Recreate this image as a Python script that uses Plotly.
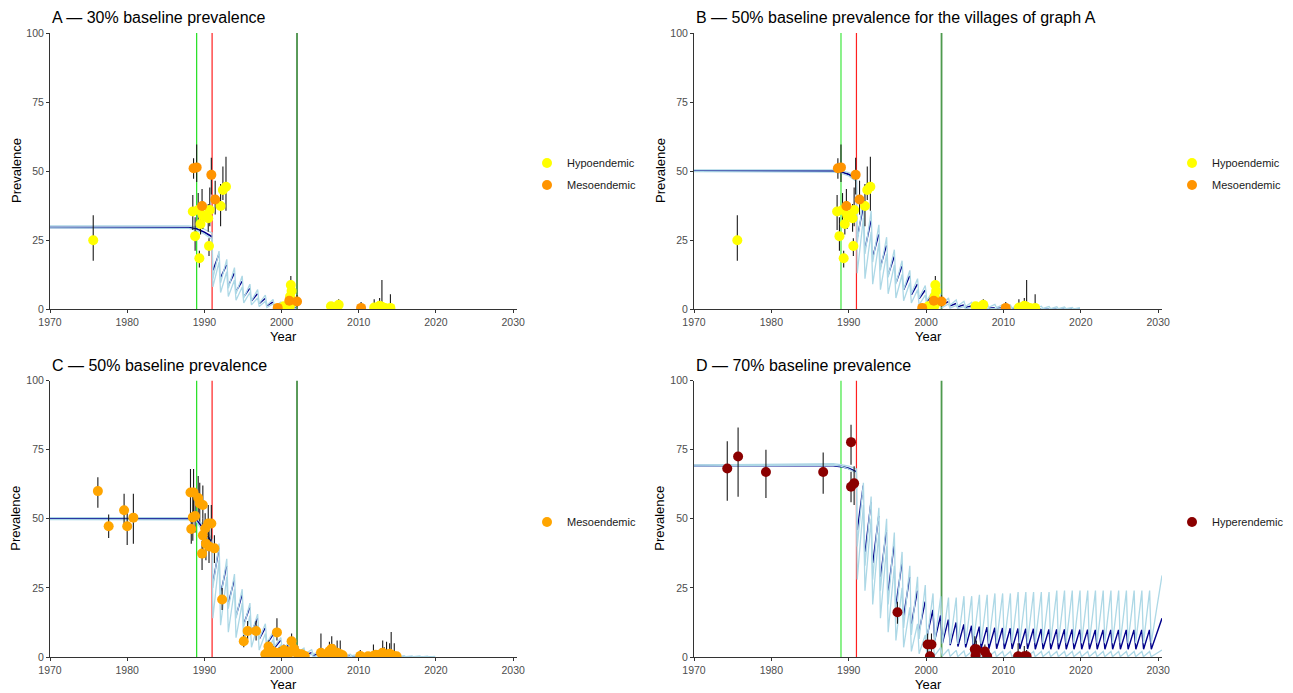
import plotly.graph_objects as go

W, H = 1293, 693
PAGE_OFFSET = 8  # the page body puts the figure 8 px right and down

# ------------------------------------------------------------------ data
x_ticks = [1970, 1980, 1990, 2000, 2010, 2020, 2030]
y_ticks = [0, 25, 50, 75, 100]
intervention_years = [1989, 1991, 2002]

# observed prevalence, villages of graphs A and B
AB_hypo_year = [1975.6, 1988.5, 1989.2, 1988.8, 1989.35, 1989.5, 1989.8, 1990.6, 1990.7, 1990.5,
                1992.1, 1992.4, 1992.8, 2000.3, 2001.2, 2001.3, 2001.1, 2001.1, 2000.6, 2006.4,
                2007.4, 2006.9, 2012.0, 2012.7, 2013.0, 2013.4, 2014.1]
AB_hypo_prev = [24.9, 35.3, 35.9, 26.4, 18.4, 30.8, 34.0, 22.8, 35.9, 32.9,
                37.3, 43.1, 44.3, 1.0, 8.7, 6.5, 4.5, 1.2, 0.4, 1.0,
                1.5, 0.5, 0.5, 1.2, 0.8, 0.4, 0.4]
AB_hypo_lo = [17.5, 28.6, 30.0, 21.1, 15.0, 27.0, 29.0, 19.2, 30.0, 28.0,
              30.0, 39.5, 35.6, 0.0, 6.0, 4.0, 2.5, 0.3, 0.0, 0.2,
              0.5, 0.0, 0.0, 0.2, 0.0, 0.0, 0.0]
AB_hypo_hi = [34.0, 41.3, 42.0, 33.2, 21.1, 35.0, 39.0, 25.6, 44.0, 38.0,
              45.3, 51.6, 55.2, 2.0, 12.0, 9.5, 7.0, 3.0, 1.5, 2.5,
              3.5, 2.0, 3.5, 4.0, 10.5, 2.0, 5.3]

AB_meso_year = [1988.6, 1989.0, 1989.7, 1990.9, 1991.4, 1999.5, 2001.0, 2002.0, 2010.3]
AB_meso_prev = [51.0, 51.3, 37.3, 48.6, 39.7, 0.4, 3.0, 2.7, 0.4]
AB_meso_lo = [47.2, 46.0, 34.0, 41.5, 34.2, 0.0, 1.0, 0.8, 0.0]
AB_meso_hi = [54.6, 59.6, 43.5, 54.8, 46.5, 1.5, 5.5, 5.0, 2.5]

# observed prevalence, villages of graph C
C_meso_year = [1976.2, 1977.6, 1979.6, 1980.0, 1980.8, 1988.2, 1988.6, 1988.5, 1988.3, 1988.8,
               1989.2, 1989.4, 1989.8, 1989.7, 1989.8, 1990.1, 1990.2, 1990.5, 1990.9, 1990.6,
               1991.3, 1992.3, 1995.1, 1995.6, 1996.7, 1998.3, 1999.4, 1997.9, 1998.7, 2000.0,
               2000.8, 2001.3, 2001.6, 2002.1, 2002.4, 2000.5, 1999.0, 2001.0, 2002.8, 1998.2,
               2005.1, 2005.9, 2006.5, 2007.2, 2007.6, 2006.0, 2006.8, 2010.2, 2011.9, 2012.5,
               2013.1, 2013.6, 2014.2, 2014.6, 2012.8, 2013.9, 2011.2,
               1998.9, 1999.7, 2000.3, 2001.8, 2002.6, 2003.0, 2005.4, 2006.2, 2007.0, 2007.9,
               2012.2, 2013.3, 2014.0, 2014.9]
C_meso_prev = [60.0, 47.3, 53.1, 47.3, 50.4, 59.5, 59.5, 50.5, 46.3, 51.0,
               57.5, 55.5, 55.0, 37.4, 44.0, 46.5, 41.0, 48.3, 48.3, 40.0,
               39.3, 20.8, 5.7, 9.4, 9.4, 3.8, 8.9, 1.0, 0.8, 1.2,
               2.0, 5.7, 3.0, 1.2, 0.5, 0.3, 0.5, 1.5, 0.3, 1.5,
               1.5, 0.5, 3.0, 1.5, 1.0, 1.2, 1.8, 0.4, 0.4, 0.5,
               1.5, 0.6, 0.8, 0.3, 0.8, 0.5, 0.3,
               2.0, 1.5, 2.5, 1.8, 1.0, 0.4, 0.8, 2.2, 1.0, 0.6,
               0.8, 1.0, 1.2, 0.3]
C_meso_lo = [54.0, 43.0, 47.0, 40.5, 41.0, 49.0, 51.0, 42.0, 41.0, 45.0,
             52.0, 49.0, 50.0, 31.5, 38.0, 40.0, 35.0, 42.0, 42.0, 34.0,
             34.0, 17.0, 3.5, 6.5, 6.0, 1.5, 6.0, 0.0, 0.0, 0.0,
             0.5, 3.5, 1.0, 0.0, 0.0, 0.0, 0.0, 0.3, 0.0, 0.3,
             0.3, 0.0, 1.0, 0.3, 0.2, 0.2, 0.5, 0.0, 0.0, 0.0,
             0.3, 0.0, 0.0, 0.0, 0.0, 0.0, 0.0,
             0.5, 0.3, 0.8, 0.4, 0.1, 0.0, 0.1, 0.6, 0.2, 0.0,
             0.1, 0.2, 0.3, 0.0]
C_meso_hi = [65.0, 51.5, 59.0, 53.0, 59.0, 68.0, 68.0, 58.0, 52.0, 57.0,
             65.5, 63.0, 62.0, 42.0, 50.0, 52.0, 47.0, 55.0, 55.0, 46.0,
             44.0, 25.0, 8.0, 13.0, 13.0, 6.0, 14.0, 2.5, 3.0, 3.5,
             4.0, 8.5, 5.5, 4.0, 2.5, 1.5, 2.0, 3.5, 1.5, 3.0,
             8.5, 3.0, 7.5, 6.0, 6.0, 3.0, 4.5, 2.5, 4.5, 2.0,
             6.0, 5.5, 9.0, 5.0, 3.0, 2.5, 1.5,
             4.0, 3.5, 4.5, 4.0, 2.5, 1.5, 2.5, 5.5, 3.0, 2.0,
             2.5, 3.5, 5.0, 1.5]

# observed prevalence, villages of graph D
D_hyper_year = [1974.3, 1975.7, 1979.3, 1986.7, 1990.3, 1990.3, 1990.7, 1996.3, 2000.2, 2000.7,
                2000.5, 2006.3, 2006.5, 2006.4, 2007.6, 2007.9, 2011.9, 2012.7, 2013.0]
D_hyper_prev = [68.2, 72.5, 66.9, 66.9, 77.7, 61.6, 62.8, 16.2, 4.5, 4.5,
                0.3, 2.8, 2.8, 0.5, 2.0, 0.3, 0.3, 0.3, 0.3]
D_hyper_lo = [56.5, 58.0, 57.5, 59.0, 69.5, 56.0, 55.0, 12.0, 1.5, 1.5,
              0.0, 0.8, 0.8, 0.0, 0.5, 0.0, 0.0, 0.0, 0.0]
D_hyper_hi = [78.0, 83.0, 75.0, 74.0, 84.0, 67.0, 69.0, 20.0, 8.5, 8.5,
              2.0, 7.5, 6.0, 3.0, 4.5, 2.0, 5.0, 4.0, 2.5]

# model output: pre-treatment trajectory
pre_years = [1970, 1987, 1988, 1989, 1990, 1991]
A_pre_med = [29.6, 29.6, 29.5, 29.0, 27.8, 26.2]
A_pre_up = [30.1, 30.1, 30.1, 29.7, 28.9, 27.6]
A_pre_lw = [29.4, 29.4, 29.2, 28.5, 27.2, 25.2]
B_pre_med = [50.0, 50.0, 50.0, 49.7, 48.8, 47.0]
B_pre_up = [50.4, 50.4, 50.4, 50.1, 49.4, 48.2]
B_pre_lw = [49.8, 49.8, 49.6, 49.2, 48.2, 46.2]
C_pre_med = [50.0, 50.0, 50.0, 49.5, 46.0, 41.0]
C_pre_up = [50.4, 50.4, 50.4, 50.1, 47.4, 42.4]
C_pre_lw = [49.7, 49.7, 49.6, 48.9, 44.6, 39.6]
D_pre_med = [69.2, 69.2, 69.2, 68.9, 68.2, 67.0]
D_pre_up = [69.5, 69.7, 69.9, 69.6, 69.0, 68.0]
D_pre_lw = [69.1, 69.3, 69.4, 69.0, 68.0, 66.5]

# model output: yearly treatment cycles (value just after / just before each round)
A_cycles = [1991, 1992, 1993, 1994, 1995, 1996, 1997, 1998, 1999, 2000, 2001]
A_med_lo = [14.0, 11.5, 8.5, 6.5, 4.5, 3.0, 2.0, 1.2, 0.7, 0.4, 0.2]
A_med_hi = [19.8, 16.0, 13.0, 10.0, 7.5, 5.5, 3.8, 2.5, 1.5, 0.9, 0.5]
A_up_lo = [11.0, 9.5, 7.5, 5.5, 4.0, 3.0, 2.0, 1.3, 0.8, 0.5, 0.3]
A_up_hi = [21.0, 18.0, 15.0, 12.0, 9.0, 7.0, 5.0, 3.5, 2.5, 1.5, 1.0]
A_lw_lo = [8.0, 6.0, 4.5, 3.2, 2.2, 1.5, 0.9, 0.5, 0.3, 0.1, 0.0]
A_lw_hi = [17.0, 13.5, 10.5, 8.0, 6.0, 4.0, 2.8, 1.8, 1.0, 0.6, 0.3]

B_cycles = [1991, 1992, 1993, 1994, 1995, 1996, 1997, 1998, 1999, 2000,
            2001, 2002, 2003, 2004, 2005, 2006, 2007, 2008, 2009, 2010,
            2011, 2012, 2013, 2014, 2015, 2016, 2017, 2018, 2019]
B_med_lo = [26.0, 22.0, 19.0, 15.5, 12.5, 9.5, 7.0, 5.2, 3.8, 2.8,
            2.0, 1.5, 1.1, 0.8, 0.6, 0.45, 0.35, 0.25, 0.2, 0.15,
            0.1, 0.1, 0.05, 0.05, 0.05, 0.0, 0.0, 0.0, 0.0]
B_med_hi = [37.0, 32.0, 27.0, 23.0, 19.0, 15.5, 12.0, 9.0, 6.8, 5.0,
            3.7, 2.7, 2.0, 1.5, 1.1, 0.8, 0.6, 0.45, 0.35, 0.25,
            0.2, 0.15, 0.1, 0.1, 0.05, 0.05, 0.0, 0.0, 0.0]
B_up_lo = [24.0, 20.0, 17.0, 14.0, 11.5, 9.0, 7.0, 5.5, 4.0, 3.0,
           2.3, 1.8, 1.4, 1.1, 0.9, 0.8, 0.7, 0.6, 0.5, 0.45,
           0.4, 0.35, 0.3, 0.25, 0.2, 0.15, 0.1, 0.1, 0.05]
B_up_hi = [40.0, 35.5, 30.5, 26.0, 21.5, 17.5, 14.0, 11.0, 8.5, 6.5,
           5.0, 4.0, 3.3, 2.8, 2.4, 2.1, 1.9, 1.7, 1.5, 1.4,
           1.3, 1.2, 1.1, 1.0, 0.9, 0.8, 0.7, 0.6, 0.5]
B_lw_lo = [13.0, 11.0, 9.0, 7.0, 5.5, 4.0, 3.0, 2.2, 1.5, 1.0,
           0.7, 0.5, 0.3, 0.2, 0.1, 0.05, 0.0, 0.0, 0.0, 0.0,
           0.0, 0.0, 0.0, 0.0, 0.0, 0.0, 0.0, 0.0, 0.0]
B_lw_hi = [33.0, 28.0, 24.0, 20.0, 16.0, 12.5, 9.5, 7.0, 5.0, 3.5,
           2.5, 1.8, 1.3, 0.9, 0.6, 0.4, 0.3, 0.2, 0.1, 0.05,
           0.0, 0.0, 0.0, 0.0, 0.0, 0.0, 0.0, 0.0, 0.0]

C_cycles = B_cycles
C_med_lo = [27.0, 23.0, 19.5, 15.0, 12.0, 9.0, 6.5, 4.8, 3.4, 2.4,
            1.6, 1.1, 0.8, 0.55, 0.4, 0.3, 0.2, 0.15, 0.1, 0.1,
            0.05, 0.05, 0.0, 0.0, 0.0, 0.0, 0.0, 0.0, 0.0]
C_med_hi = [39.0, 33.0, 28.0, 22.5, 18.0, 14.0, 10.5, 8.0, 6.0, 4.3,
            3.1, 2.2, 1.6, 1.2, 0.9, 0.6, 0.45, 0.3, 0.2, 0.15,
            0.1, 0.1, 0.05, 0.05, 0.0, 0.0, 0.0, 0.0, 0.0]
C_up_lo = [25.0, 21.0, 17.5, 14.0, 11.0, 8.5, 6.5, 5.0, 3.8, 2.8,
           2.1, 1.6, 1.3, 1.0, 0.8, 0.7, 0.6, 0.5, 0.45, 0.4,
           0.35, 0.3, 0.25, 0.2, 0.15, 0.1, 0.1, 0.05, 0.05]
C_up_hi = [41.0, 35.5, 30.0, 24.5, 19.5, 15.5, 12.0, 9.0, 7.0, 5.0,
           4.0, 3.2, 2.6, 2.1, 1.7, 1.4, 1.2, 1.0, 0.9, 0.8,
           0.7, 0.6, 0.55, 0.5, 0.45, 0.4, 0.35, 0.3, 0.25]
C_lw_lo = [14.0, 11.5, 9.0, 7.0, 5.0, 3.5, 2.5, 1.8, 1.2, 0.8,
           0.5, 0.3, 0.2, 0.1, 0.05, 0.0, 0.0, 0.0, 0.0, 0.0,
           0.0, 0.0, 0.0, 0.0, 0.0, 0.0, 0.0, 0.0, 0.0]
C_lw_hi = [35.0, 29.0, 24.5, 19.5, 15.0, 11.5, 8.5, 6.3, 4.5, 3.2,
           2.2, 1.5, 1.0, 0.7, 0.5, 0.3, 0.2, 0.1, 0.05, 0.0,
           0.0, 0.0, 0.0, 0.0, 0.0, 0.0, 0.0, 0.0, 0.0]

D_cycles = [1991, 1992, 1993, 1994, 1995, 1996, 1997, 1998, 1999, 2000,
            2001, 2002, 2003, 2004, 2005, 2006, 2007, 2008, 2009, 2010,
            2011, 2012, 2013, 2014, 2015, 2016, 2017, 2018, 2019, 2020,
            2021, 2022, 2023, 2024, 2025, 2026, 2027, 2028, 2029]
D_med_lo = [46.0, 38.0, 34.0, 29.0, 24.0, 19.0, 15.0, 12.0, 9.5, 7.5,
            6.0, 5.0, 4.3, 3.8, 3.5, 3.3, 3.1, 3.0, 3.0, 2.9,
            2.9, 2.9, 2.9, 2.8, 2.8, 2.8, 2.8, 2.8, 2.8, 2.8,
            2.8, 2.8, 2.8, 2.8, 2.8, 2.8, 2.8, 2.8, 2.8]
D_med_hi = [62.0, 56.0, 51.0, 46.0, 41.0, 34.0, 29.0, 24.0, 20.0, 17.0,
            15.0, 13.5, 12.5, 11.8, 11.3, 11.0, 10.8, 10.6, 10.5, 10.4,
            10.3, 10.2, 10.2, 10.1, 10.0, 10.0, 10.0, 10.0, 9.9, 9.9,
            9.8, 9.8, 9.8, 9.8, 9.8, 9.8, 9.8, 9.8, 14.0]
D_up_lo = [40.0, 33.0, 28.0, 24.0, 19.0, 14.0, 10.5, 8.0, 6.5, 5.5,
           5.0, 4.8, 4.7, 4.7, 4.7, 4.8, 4.8, 4.8, 4.9, 4.9,
           5.0, 5.0, 5.0, 5.0, 5.0, 5.0, 5.0, 5.0, 5.0, 5.0,
           5.0, 5.0, 5.0, 5.0, 5.0, 5.0, 5.0, 5.0, 5.0]
D_up_hi = [63.0, 58.0, 54.0, 50.0, 45.0, 38.0, 33.0, 29.0, 26.0, 23.0,
           22.0, 21.5, 21.5, 22.0, 22.0, 22.5, 22.5, 23.0, 23.0, 23.0,
           23.5, 23.5, 23.5, 23.5, 23.5, 24.0, 24.0, 24.0, 24.0, 24.0,
           24.0, 24.0, 24.0, 24.0, 24.0, 24.0, 24.0, 24.0, 29.5]
D_lw_lo = [28.0, 24.0, 19.0, 14.0, 9.0, 6.0, 3.5, 2.0, 1.2, 0.8,
           0.5, 0.3, 0.2, 0.1, 0.1, 0.1, 0.1, 0.1, 0.1, 0.1,
           0.1, 0.1, 0.1, 0.1, 0.1, 0.1, 0.1, 0.1, 0.1, 0.1,
           0.1, 0.1, 0.1, 0.1, 0.1, 0.1, 0.1, 0.1, 0.1]
D_lw_hi = [55.0, 50.0, 45.0, 40.0, 33.0, 25.0, 18.0, 12.0, 8.0, 5.0,
           3.5, 2.8, 2.4, 2.2, 2.0, 2.0, 2.0, 2.0, 2.0, 2.0,
           2.0, 2.0, 2.0, 2.0, 2.0, 2.0, 2.0, 2.0, 2.0, 2.0,
           2.0, 2.0, 2.0, 2.0, 2.0, 2.0, 2.0, 2.0, 2.5]

# ------------------------------------------------------------------ styles
X_END = 2030.5
FONT = "Liberation Sans, Arial, sans-serif"
DARK = "#00008B"
LIGHT = "#ADD8E6"
COL_HYPO = "#FFFF00"
COL_MESO_AB = "#FF9400"
COL_MESO_C = "#FFA500"
COL_HYPER = "#8B0000"

# pixel boxes of the four panels on the page (left, right, top, bottom)
boxes = {
    1: (50, 517, 33, 309),
    2: (694, 1162, 33, 309),
    3: (50, 517, 380.5, 657),
    4: (694, 1162, 380.5, 657),
}


def px(xp):
    return (xp - PAGE_OFFSET) / W


def py(yp):
    return 1 - (yp - PAGE_OFFSET) / H


def envelope(pre_y, cyc, lo, hi, last_to_end):
    xs, ys = list(pre_years), list(pre_y)
    for i, t in enumerate(cyc):
        peak_x = X_END if (last_to_end and i == len(cyc) - 1) else t + 0.9
        xs += [t + 0.1, peak_x]
        ys += [lo[i], hi[i]]
    return xs, ys


def median_path(cyc, lo, hi, last_to_end, solid_from):
    """rising part of every cycle; cycles from `solid_from` on are joined by the drop."""
    xs, ys = [], []
    for i, t in enumerate(cyc):
        peak_x = X_END if (last_to_end and i == len(cyc) - 1) else t + 0.88
        xs += [t + 0.12, peak_x]
        ys += [lo[i], hi[i]]
        nxt = cyc[i + 1] if i + 1 < len(cyc) else None
        if solid_from is None or nxt is None or nxt < solid_from:
            xs.append(None)
            ys.append(None)
    return xs, ys


def errbar_xy(year, lo, hi):
    xs, ys = [], []
    for x, a, b in zip(year, lo, hi):
        xs += [x, x, None]
        ys += [a, b, None]
    return xs, ys


fig = go.Figure()

panels = [
    dict(k=1, title="A \u2014 30% baseline prevalence",
         pre=(A_pre_med, A_pre_up, A_pre_lw),
         cyc=(A_cycles, A_med_lo, A_med_hi, A_up_lo, A_up_hi, A_lw_lo, A_lw_hi), to_end=False,
         solid_from=None,
         groups=[("Hypoendemic", COL_HYPO, AB_hypo_year, AB_hypo_prev, AB_hypo_lo, AB_hypo_hi),
                 ("Mesoendemic", COL_MESO_AB, AB_meso_year, AB_meso_prev, AB_meso_lo, AB_meso_hi)],
         vcols=["#1FE01F", "#FF2020", "#006400"], vw=[1.2, 1.2, 1.3]),
    dict(k=2, title="B \u2014 50% baseline prevalence for the villages of graph A",
         pre=(B_pre_med, B_pre_up, B_pre_lw),
         cyc=(B_cycles, B_med_lo, B_med_hi, B_up_lo, B_up_hi, B_lw_lo, B_lw_hi), to_end=False,
         solid_from=None,
         groups=[("Hypoendemic", COL_HYPO, AB_hypo_year, AB_hypo_prev, AB_hypo_lo, AB_hypo_hi),
                 ("Mesoendemic", COL_MESO_AB, AB_meso_year, AB_meso_prev, AB_meso_lo, AB_meso_hi)],
         vcols=["#7FEF7F", "#FF2020", "#4E9A4E"], vw=[1.8, 1.2, 1.8]),
    dict(k=3, title="C \u2014 50% baseline prevalence",
         pre=(C_pre_med, C_pre_up, C_pre_lw),
         cyc=(C_cycles, C_med_lo, C_med_hi, C_up_lo, C_up_hi, C_lw_lo, C_lw_hi), to_end=False,
         solid_from=None,
         groups=[("Mesoendemic", COL_MESO_C, C_meso_year, C_meso_prev, C_meso_lo, C_meso_hi)],
         vcols=["#1FE01F", "#FF2020", "#006400"], vw=[1.2, 1.2, 1.3]),
    dict(k=4, title="D \u2014 70% baseline prevalence",
         pre=(D_pre_med, D_pre_up, D_pre_lw),
         cyc=(D_cycles, D_med_lo, D_med_hi, D_up_lo, D_up_hi, D_lw_lo, D_lw_hi), to_end=True,
         solid_from=2001,
         groups=[("Hyperendemic", COL_HYPER, D_hyper_year, D_hyper_prev, D_hyper_lo, D_hyper_hi)],
         vcols=["#7FEF7F", "#FF2020", "#4E9A4E"], vw=[1.8, 1.2, 1.8]),
]

annotations = []
shapes = []
layout_axes = {}
legends = {}

for p in panels:
    k = p["k"]
    sfx = "" if k == 1 else str(k)
    xa, ya = "x" + sfx, "y" + sfx
    L, R, T, B = boxes[k]

    pre_med, pre_up, pre_lw = p["pre"]
    cyc, mlo, mhi, ulo, uhi, llo, lhi = p["cyc"]

    # median trajectory
    fig.add_trace(go.Scatter(x=pre_years, y=pre_med, mode="lines", xaxis=xa, yaxis=ya,
                             line=dict(color=DARK, width=1.8), showlegend=False, hoverinfo="skip"))
    mx, my = median_path(cyc, mlo, mhi, p["to_end"], p["solid_from"])
    fig.add_trace(go.Scatter(x=mx, y=my, mode="lines", xaxis=xa, yaxis=ya, connectgaps=False,
                             line=dict(color=DARK, width=1.4), showlegend=False, hoverinfo="skip"))
    # uncertainty envelopes
    for pre_y, lo, hi in ((pre_up, ulo, uhi), (pre_lw, llo, lhi)):
        ex, ey = envelope(pre_y, cyc, lo, hi, p["to_end"])
        fig.add_trace(go.Scatter(x=ex, y=ey, mode="lines", xaxis=xa, yaxis=ya,
                                 line=dict(color=LIGHT, width=1.3), showlegend=False,
                                 hoverinfo="skip"))

    leg_name = "legend" if k == 1 else "legend" + str(k)
    for name, col, yr, pv, lo, hi in p["groups"]:
        bx, by = errbar_xy(yr, lo, hi)
        fig.add_trace(go.Scatter(x=bx, y=by, mode="lines", xaxis=xa, yaxis=ya,
                                 line=dict(color="#1A1A1A", width=1.1), showlegend=False,
                                 hoverinfo="skip"))
    for name, col, yr, pv, lo, hi in p["groups"]:
        fig.add_trace(go.Scatter(x=yr, y=pv, mode="markers", xaxis=xa, yaxis=ya, name=name,
                                 marker=dict(color=col, size=10, line=dict(width=0)),
                                 legend=leg_name, legendgroup=name + sfx, showlegend=True))

    for yv, c, w in zip(intervention_years, p["vcols"], p["vw"]):
        shapes.append(dict(type="line", xref=xa, yref=ya, x0=yv, x1=yv, y0=0, y1=100,
                           line=dict(color=c, width=w), layer="below"))

    axis_common = dict(showline=True, linecolor="#333333", linewidth=1, ticks="outside",
                       ticklen=3, tickcolor="#333333", showgrid=False, zeroline=False,
                       automargin=False,
                       tickfont=dict(family=FONT, size=10.5, color="#4D4D4D"))
    layout_axes["xaxis" + sfx] = dict(domain=[px(L), px(R)], range=[1970, X_END],
                                      tickvals=x_ticks, anchor=ya, **axis_common)
    layout_axes["yaxis" + sfx] = dict(domain=[py(B), py(T)], range=[0, 100],
                                      tickvals=y_ticks, anchor=xa, **axis_common)

    # titles
    annotations.append(dict(text=p["title"], x=px(L), y=py(T - 15.5), xref="paper",
                            yref="paper", xanchor="left", yanchor="middle", showarrow=False,
                            font=dict(family=FONT, size=16, color="#000000")))
    annotations.append(dict(text="Year", x=px((L + R) / 2), y=py(B + 27), xref="paper",
                            yref="paper", xanchor="center", yanchor="middle", showarrow=False,
                            font=dict(family=FONT, size=13, color="#000000")))
    annotations.append(dict(text="Prevalence", x=px(L - 34), y=py((T + B) / 2),
                            xref="paper", yref="paper", xanchor="center", yanchor="middle",
                            textangle=-90, showarrow=False,
                            font=dict(family=FONT, size=13, color="#000000")))

    leg_left = 527 if k in (1, 3) else 1172
    leg_cy = 174 if k in (1, 2) else 522
    legends[leg_name] = dict(x=px(leg_left), y=py(leg_cy), xanchor="left", yanchor="middle",
                             bgcolor="rgba(0,0,0,0)", borderwidth=0, tracegroupgap=3,
                             font=dict(family=FONT, size=11, color="#1A1A1A"),
                             itemclick=False)

fig.update_layout(
    template="none",
    width=W, height=H,
    margin=dict(l=0, r=0, t=0, b=0, autoexpand=False),
    paper_bgcolor="white", plot_bgcolor="white",
    font=dict(family=FONT),
    annotations=annotations, shapes=shapes,
    **layout_axes, **legends,
)

fig.write_html("out.html")
